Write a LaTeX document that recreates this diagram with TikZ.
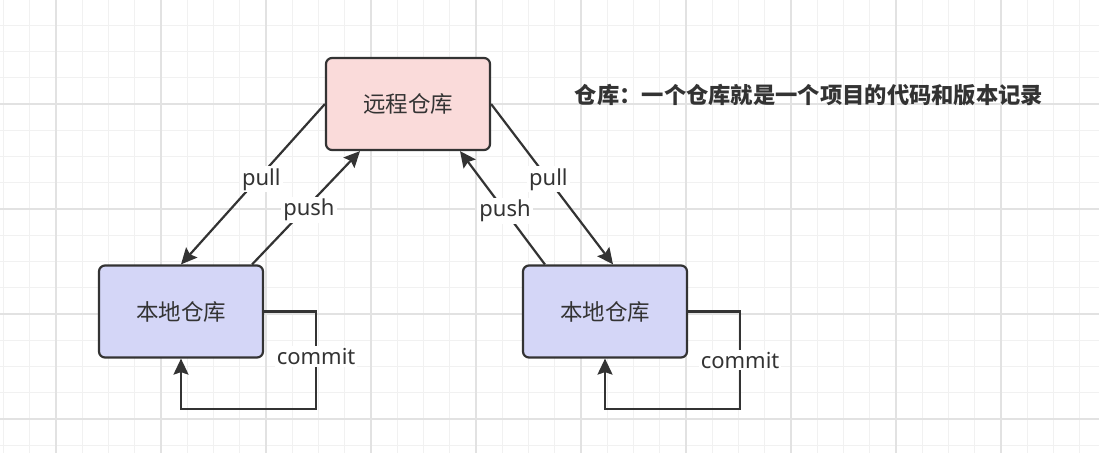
\documentclass[tikz,border=0pt]{standalone}
\usepackage{fontspec}
\setmainfont{Noto Sans CJK SC}
\newfontfamily\latinfont{Noto Sans}
\usepackage{tikz}
\usetikzlibrary{arrows.meta}
\definecolor{inkdark}{HTML}{333333}
\definecolor{remotefill}{HTML}{FADBDA}
\definecolor{localfill}{HTML}{D4D6F7}
\definecolor{gridminor}{HTML}{F1F1F1}
\definecolor{gridmajor}{HTML}{E2E2E2}
\tikzset{repo/.style={draw=inkdark,line width=2.2pt,rounded corners=6pt,minimum width=164pt,minimum height=92pt,text=inkdark,font=\fontsize{22.5}{26}\selectfont},
conn/.style={-{Stealth[length=16pt,width=15pt,inset=2.5pt]},line width=2.2pt,inkdark},
lbl/.style={fill=white,text=inkdark,inner sep=2pt,font=\latinfont\fontsize{22}{26}\selectfont}}

\begin{document}
\begin{tikzpicture}[x=1pt,y=-1pt]
\useasboundingbox (0,0) rectangle (1099,453);
\fill[white] (0,0) rectangle (1099,453);
% grid
\foreach \gx in {3.5,29.75,...,1099} \draw[gridminor,line width=1pt] (\gx,0)--(\gx,453);
\foreach \gy in {25.25,51.5,...,453} \draw[gridminor,line width=1pt] (0,\gy)--(1099,\gy);
\foreach \gx in {56,161,...,1099} \draw[gridmajor,line width=1.4pt] (\gx,0)--(\gx,453);
\foreach \gy in {104,209,...,453} \draw[gridmajor,line width=1.4pt] (0,\gy)--(1099,\gy);
% repositories
\node[repo,fill=remotefill] (remote) at (408,104) {远程仓库};
\node[repo,fill=localfill] (localL) at (181,311.5) {本地仓库};
\node[repo,fill=localfill] (localR) at (605,311.5) {本地仓库};
\node[text=inkdark,font=\bfseries\fontsize{22.3}{26}\selectfont] (note) at (809,95) {仓库：一个仓库就是一个项目的代码和版本记录};
% pull / push
\draw[conn] (remote.west) -- node[lbl,pos=.47,xshift=4pt] {pull} (localL.north);
\draw[conn] ([xshift=-12pt]localL.north east) -- node[lbl,pos=.48,xshift=5pt] {push} ([xshift=-48pt]remote.south);
\draw[conn] ([xshift=23pt]localR.north west) -- node[lbl,pos=.47] {push} ([xshift=52pt]remote.south);
\draw[conn] (remote.east) -- node[lbl,pos=.47] {pull} ([xshift=8pt]localR.north);
% commit
\draw[conn] (localL.east) -| node[lbl,pos=.73] {commit} ([xshift=52pt,yshift=-97.5pt]localL.east) -| (localL.south);
\draw[conn] (localR.east) -| node[lbl,pos=.75] {commit} ([xshift=52pt,yshift=-97.5pt]localR.east) -| (localR.south);
\end{tikzpicture}
\end{document}
